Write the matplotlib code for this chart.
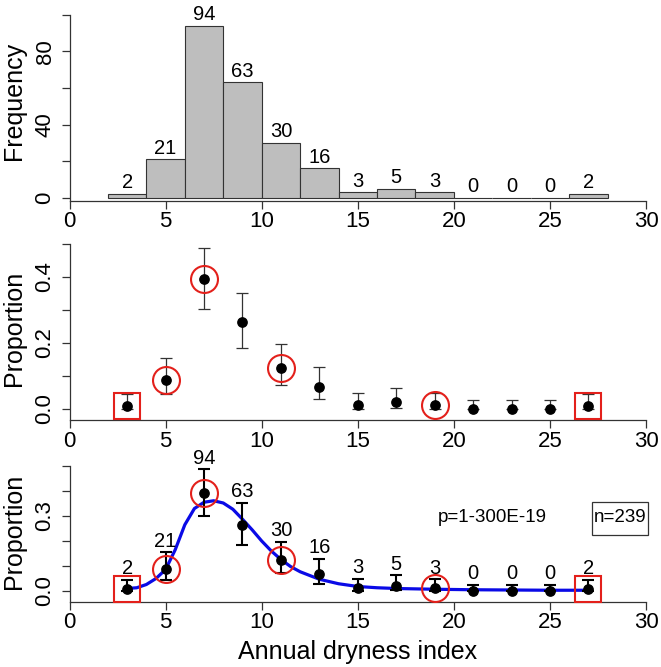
import numpy as np
import matplotlib
matplotlib.use('Agg')
import matplotlib.pyplot as plt
from matplotlib.patches import Rectangle

plt.rcParams['font.family'] = ['Liberation Sans', 'DejaVu Sans']

# Histogram of annual dryness index
bin_edges = [2, 4, 6, 8, 10, 12, 14, 16, 18, 20, 22, 24, 26, 28]
counts = [2, 21, 94, 63, 30, 16, 3, 5, 3, 0, 0, 0, 2]
n_total = 239

# Proportions with confidence intervals (bin mid points)
mids = [3, 5, 7, 9, 11, 13, 15, 17, 19, 21, 23, 25, 27]
prop = [c / n_total for c in counts]
ci_low = [0.0, 0.045, 0.302, 0.186, 0.0725, 0.029, 0.0, 0.004, 0.0, 0.0, 0.0, 0.0, 0.0]
ci_high = [0.0445, 0.155, 0.487, 0.353, 0.198, 0.128, 0.049, 0.0635, 0.047, 0.026, 0.026, 0.026, 0.044]

# highlighted bins
circle_x = [5, 7, 11, 19]
square_x = [3, 27]

# fitted curve
curve_x = [3.0, 3.5, 4.0, 4.5, 5.0, 5.5, 6.0, 6.5, 7.0, 7.5, 8.0, 8.5, 9.0, 9.5,
           10.0, 10.5, 11.0, 11.5, 12.0, 13.0, 14.0, 15.0, 16.0, 17.0, 19.0,
           21.0, 23.0, 25.0, 27.0]
curve_y = [0.010, 0.013, 0.026, 0.050, 0.086, 0.165, 0.265, 0.330, 0.355, 0.361,
           0.352, 0.327, 0.287, 0.245, 0.200, 0.160, 0.126, 0.098, 0.077, 0.047,
           0.029, 0.018, 0.013, 0.010, 0.007, 0.005, 0.004, 0.003, 0.003]

W, H = 661, 667
fig = plt.figure(figsize=(W / 100, H / 100), dpi=100)

axis_col = '#333333'
red = '#e3201b'
tick_fs = 16
lab_fs = 18
ann_fs = 14.5


def px_axes(top_px, bottom_px):
    left = 69.5 / W
    width = 30.5 * 19.22 / W
    return fig.add_axes([left, (H - bottom_px) / H, width, (bottom_px - top_px) / H])


def style(ax, ybot, ytop):
    for s in ['top', 'right']:
        ax.spines[s].set_visible(False)
    for s in ['left', 'bottom']:
        ax.spines[s].set_color(axis_col)
        ax.spines[s].set_linewidth(0.9)
    ax.spines['left'].set_bounds(ybot, ytop)
    ax.spines['bottom'].set_bounds(0, 30)
    ax.set_xlim(0, 30.5)
    ax.set_xticks(range(0, 31, 5))
    ax.tick_params(axis='both', direction='out', length=5.5, width=0.9,
                   color=axis_col, labelsize=tick_fs)
    ax.tick_params(axis='x', pad=2)
    ax.tick_params(axis='y', pad=4.5)
    for lab in ax.get_yticklabels():
        lab.set_rotation(90)
        lab.set_va('center')


# ---- top: histogram ----
ax1 = px_axes(12.9, 201)
ax1.set_ylim(-1.8, 101)
ax1.bar(bin_edges[:-1], counts, width=2, align='edge', color='#bebebe',
        edgecolor='#333333', linewidth=0.8)
for x, c in zip(mids, counts):
    ax1.annotate(str(c), (x, c), xytext=(0, 4), textcoords='offset points',
                 ha='center', va='baseline', fontsize=ann_fs)
ax1.set_yticks(range(0, 101, 20))
ax1.set_yticklabels(['0', '', '40', '', '80', ''])
style(ax1, -1.8, 100)

# ---- middle: proportions ----
ax2 = px_axes(240.7, 420.2)
ax2.set_ylim(-0.034, 0.51)
yerr = [np.array(prop) - np.array(ci_low), np.array(ci_high) - np.array(prop)]
ax2.errorbar(mids, prop, yerr=yerr, fmt='o', color='black', ms=6.7,
             ecolor='#333333', elinewidth=0.9, capsize=4, capthick=0.9, zorder=3)
ax2.plot(circle_x, [prop[mids.index(x)] for x in circle_x], 'o', ms=19.4,
         mfc='none', mec=red, mew=1.5, zorder=4)
ax2.plot(square_x, [prop[mids.index(x)] for x in square_x], 's', ms=19.4,
         mfc='none', mec=red, mew=1.5, zorder=4, clip_on=False)
ax2.set_yticks(np.arange(0, 0.51, 0.1))
ax2.set_yticklabels(['0.0', '', '0.2', '', '0.4', ''])
style(ax2, -0.034, 0.5)

# ---- bottom: proportions with fit ----
ax3 = px_axes(463.5, 601.7)
ax3.set_ylim(-0.0428, 0.51)
ax3.plot(curve_x, curve_y, color='#0a0ae6', lw=2.3, zorder=2,
         solid_capstyle='round', solid_joinstyle='round')
ax3.errorbar(mids, prop, yerr=yerr, fmt='o', color='black', ms=6.7,
             ecolor='black', elinewidth=1.5, capsize=4.6, capthick=1.5, zorder=3)
ax3.plot(circle_x, [prop[mids.index(x)] for x in circle_x], 'o', ms=19.4,
         mfc='none', mec=red, mew=1.5, zorder=4)
ax3.plot(square_x, [prop[mids.index(x)] for x in square_x], 's', ms=19.4,
         mfc='none', mec=red, mew=1.5, zorder=4, clip_on=False)
for x, c, hi in zip(mids, counts, ci_high):
    ax3.annotate(str(c), (x, hi), xytext=(0, 4), textcoords='offset points',
                 ha='center', va='baseline', fontsize=ann_fs)
ax3.text(21.98, 0.292, 'p=1-300E-19', ha='center', va='center', fontsize=13.5)
ax3.text(28.64, 0.292, 'n=239', ha='center', va='center', fontsize=13.5)
ax3.add_patch(Rectangle((27.17, 0.224), 2.93, 0.133, fill=False,
                        edgecolor=axis_col, lw=0.9, clip_on=False))
ax3.set_yticks(np.arange(0, 0.51, 0.1))
ax3.set_yticklabels(['0.0', '', '', '0.3', '', ''])
style(ax3, -0.0428, 0.5)

# axis titles
fig.text(14 / W, 1 - 101 / H, 'Frequency', rotation=90, ha='center', va='center', fontsize=lab_fs)
fig.text(14 / W, 1 - 328 / H, 'Proportion', rotation=90, ha='center', va='center', fontsize=lab_fs)
fig.text(14 / W, 1 - 531 / H, 'Proportion', rotation=90, ha='center', va='center', fontsize=lab_fs)
fig.text(358 / W, 1 - 652 / H, 'Annual dryness index', ha='center', va='center', fontsize=lab_fs)

fig.savefig('out.png', dpi=100)
